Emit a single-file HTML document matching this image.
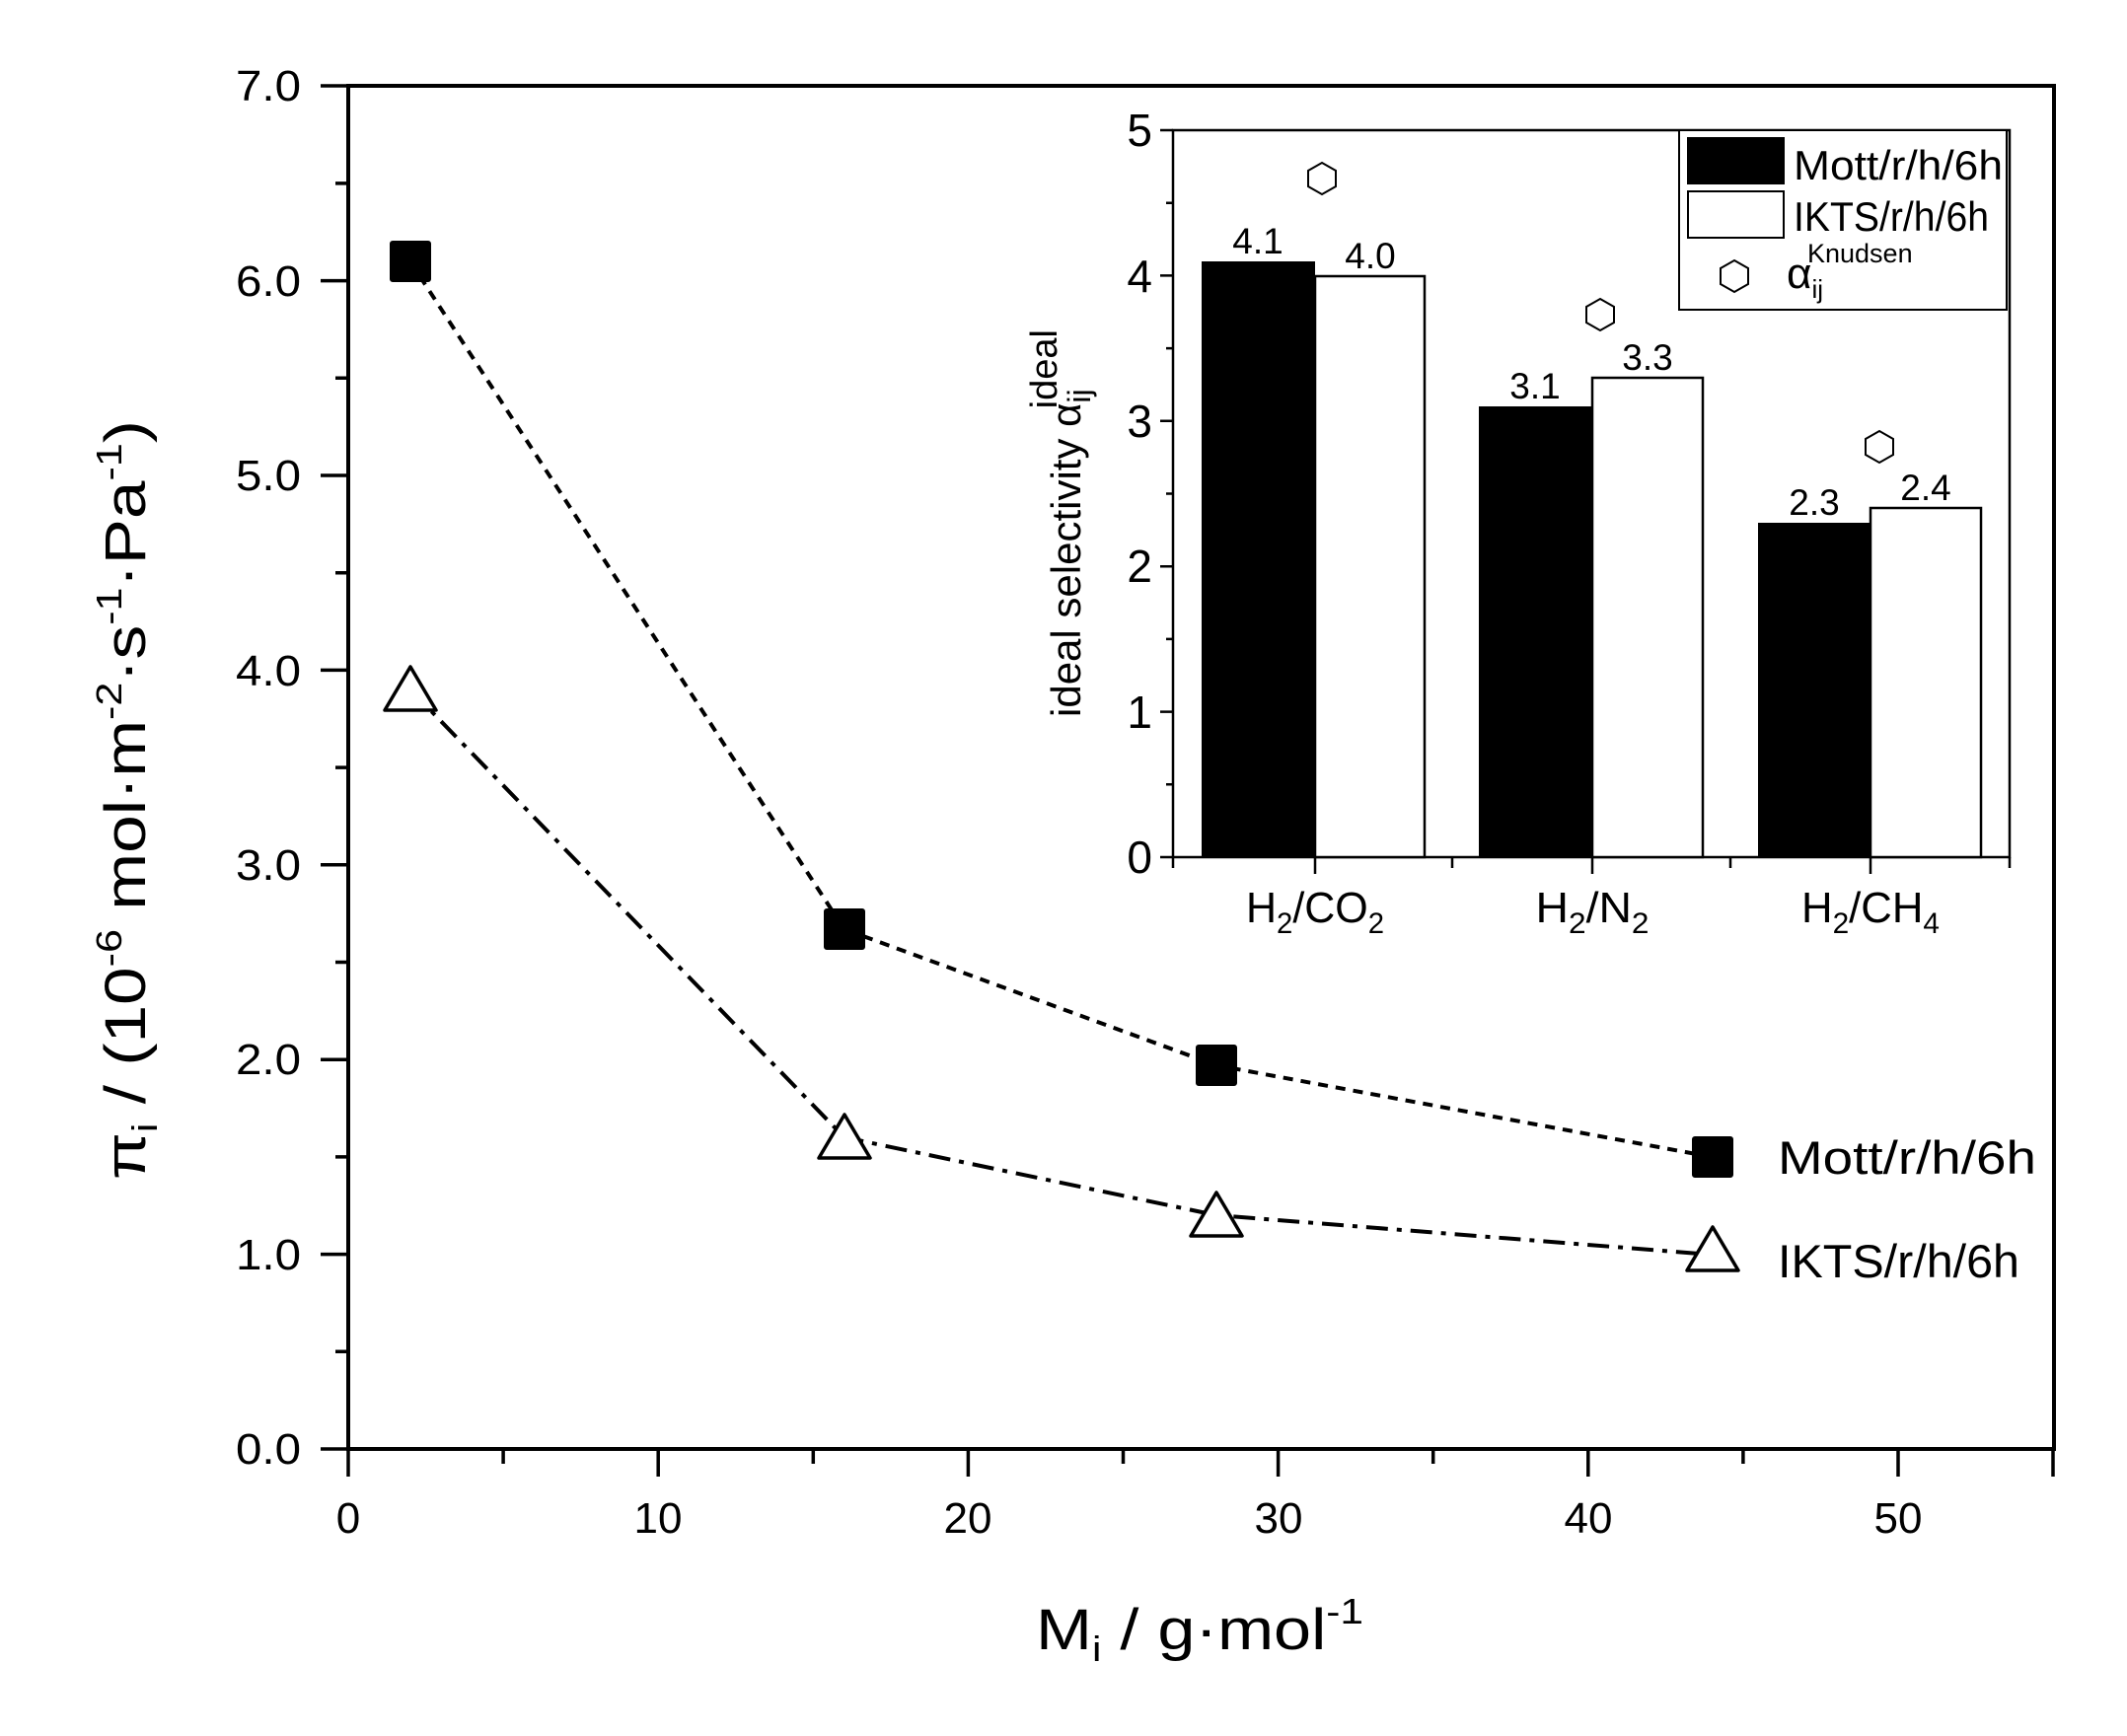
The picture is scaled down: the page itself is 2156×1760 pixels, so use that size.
<!DOCTYPE html>
<html><head><meta charset="utf-8"><style>html,body{margin:0;padding:0;background:#fff}svg{display:block}</style></head>
<body>
<svg width="2156" height="1760" viewBox="0 0 2156 1760" xmlns="http://www.w3.org/2000/svg" font-family="Liberation Sans, sans-serif">
<rect width="2156" height="1760" fill="#fff"/>
<path d="M353 87 H2082 V1469 H353 Z" fill="none" stroke="#000" stroke-width="4"/>
<g stroke="#000" stroke-width="3.5">
<path d="M325 1469H353M325 1271.6H353M325 1074.2H353M325 876.8H353M325 679.4H353M325 482H353M325 284.6H353M325 87H353"/>
<path d="M340 1370.3H353M340 1172.9H353M340 975.5H353M340 778.1H353M340 580.7H353M340 383.3H353M340 185.9H353"/>
<path d="M353 1469V1497M667.2 1469V1497M981.4 1469V1497M1295.6 1469V1497M1609.8 1469V1497M1924 1469V1497M2081 1469V1497"/>
<path d="M510.1 1469V1484M824.3 1469V1484M1138.5 1469V1484M1452.7 1469V1484M1766.9 1469V1484"/>
</g>
<g font-size="44" text-anchor="end" fill="#000">
<text x="305" y="1484" textLength="66" lengthAdjust="spacingAndGlyphs">0.0</text>
<text x="305" y="1287" textLength="66" lengthAdjust="spacingAndGlyphs">1.0</text>
<text x="305" y="1089" textLength="66" lengthAdjust="spacingAndGlyphs">2.0</text>
<text x="305" y="892" textLength="66" lengthAdjust="spacingAndGlyphs">3.0</text>
<text x="305" y="695" textLength="66" lengthAdjust="spacingAndGlyphs">4.0</text>
<text x="305" y="497" textLength="66" lengthAdjust="spacingAndGlyphs">5.0</text>
<text x="305" y="300" textLength="66" lengthAdjust="spacingAndGlyphs">6.0</text>
<text x="305" y="102" textLength="66" lengthAdjust="spacingAndGlyphs">7.0</text>
</g>
<g font-size="44" text-anchor="middle" fill="#000">
<text x="353" y="1554">0</text><text x="667" y="1554">10</text><text x="981" y="1554">20</text>
<text x="1296" y="1554">30</text><text x="1610" y="1554">40</text><text x="1924" y="1554">50</text>
</g>
<polyline points="415.8,265 855.7,942 1232.8,1080 1735.5,1173" fill="none" stroke="#000" stroke-width="4" stroke-dasharray="10,8"/>
<polyline points="415.8,699 855.7,1153 1232.8,1232 1735.5,1272" fill="none" stroke="#000" stroke-width="4" stroke-dasharray="22,9,5,9"/>
<g fill="#000" stroke="#000" stroke-width="2">
<rect x="396" y="245" width="40" height="40" rx="2"/><rect x="836" y="922" width="40" height="40" rx="2"/>
<rect x="1213" y="1060" width="40" height="40" rx="2"/><rect x="1716" y="1153" width="40" height="40" rx="2"/>
</g>
<g fill="#fff" stroke="#000" stroke-width="3.5" stroke-linejoin="round">
<polygon points="416,676 442,720 390,720"/><polygon points="856,1130 882,1174 830,1174"/>
<polygon points="1233,1209 1259,1253 1207,1253"/><polygon points="1736,1244 1762,1288 1710,1288"/>
</g>
<g font-size="47" fill="#000">
<text x="1802" y="1190" textLength="262" lengthAdjust="spacingAndGlyphs">Mott/r/h/6h</text>
<text x="1802" y="1295" textLength="245" lengthAdjust="spacingAndGlyphs">IKTS/r/h/6h</text>
</g>
<text transform="translate(147,811) rotate(-90)" text-anchor="middle" font-size="58" fill="#000" textLength="770" lengthAdjust="spacingAndGlyphs">π<tspan font-size="36" dy="12">i</tspan><tspan dy="-12">  /  (10</tspan><tspan font-size="36" dy="-24">-6</tspan><tspan dy="24"> mol·m</tspan><tspan font-size="36" dy="-24">-2</tspan><tspan dy="24">·s</tspan><tspan font-size="36" dy="-24">-1</tspan><tspan dy="24">·Pa</tspan><tspan font-size="36" dy="-24">-1</tspan><tspan dy="24">)</tspan></text>
<text x="1050" y="1672" font-size="58" fill="#000" textLength="332" lengthAdjust="spacingAndGlyphs">M<tspan font-size="36" dy="12">i</tspan><tspan dy="-12"> / g·mol</tspan><tspan font-size="36" dy="-26">-1</tspan></text>

<rect x="1189" y="132" width="848" height="737" fill="#fff" stroke="#000" stroke-width="2.5"/>
<rect x="1218" y="265" width="115" height="604" fill="#000"/>
<rect x="1333" y="280" width="111" height="589" fill="#fff" stroke="#000" stroke-width="2.5"/>
<rect x="1499" y="412" width="115" height="457" fill="#000"/>
<rect x="1614" y="383" width="112" height="486" fill="#fff" stroke="#000" stroke-width="2.5"/>
<rect x="1782" y="530" width="114" height="339" fill="#000"/>
<rect x="1896" y="515" width="112" height="354" fill="#fff" stroke="#000" stroke-width="2.5"/>
<g stroke="#000" stroke-width="2.5">
<path d="M1176 869H1189M1176 721.6H1189M1176 574.2H1189M1176 426.8H1189M1176 279.4H1189M1176 132H1189"/>
<path d="M1182 795.3H1189M1182 647.9H1189M1182 500.5H1189M1182 353.1H1189M1182 205.7H1189"/>
<path d="M1333 869V886M1614 869V886M1896 869V886M1472 869V880M1754 869V880M1189 869V880M2037 869V880"/>
</g>
<g font-size="46" text-anchor="end" fill="#000">
<text x="1168" y="885">0</text><text x="1168" y="738">1</text><text x="1168" y="590">2</text>
<text x="1168" y="443">3</text><text x="1168" y="296">4</text><text x="1168" y="148">5</text>
</g>
<g font-size="37" text-anchor="middle" fill="#000">
<text x="1275" y="257">4.1</text><text x="1389" y="272">4.0</text>
<text x="1556" y="404">3.1</text><text x="1670" y="375">3.3</text>
<text x="1839" y="522">2.3</text><text x="1952" y="507">2.4</text>
</g>
<g font-size="44" text-anchor="middle" fill="#000">
<text x="1333" y="935" textLength="140" lengthAdjust="spacingAndGlyphs">H<tspan font-size="30" dy="11">2</tspan><tspan dy="-11">/CO</tspan><tspan font-size="30" dy="11">2</tspan></text>
<text x="1614" y="935" textLength="115" lengthAdjust="spacingAndGlyphs">H<tspan font-size="30" dy="11">2</tspan><tspan dy="-11">/N</tspan><tspan font-size="30" dy="11">2</tspan></text>
<text x="1896" y="935" textLength="140" lengthAdjust="spacingAndGlyphs">H<tspan font-size="30" dy="11">2</tspan><tspan dy="-11">/CH</tspan><tspan font-size="30" dy="11">4</tspan></text>
</g>
<g fill="#fff" stroke="#000" stroke-width="2">
<polygon points="1340,165 1354,173 1354,189 1340,197 1326,189 1326,173"/>
<polygon points="1622,303 1636,311 1636,327 1622,335 1608,327 1608,311"/>
<polygon points="1905,437 1919,445 1919,461 1905,469 1891,461 1891,445"/>
</g>
<text transform="translate(1095,727) rotate(-90)" font-size="42" fill="#000">ideal selectivity α<tspan font-size="32" dy="10">ij</tspan><tspan font-size="38" dx="-20" dy="-34">ideal</tspan></text>
<rect x="1702" y="132" width="332" height="182" fill="#fff" stroke="#000" stroke-width="2"/>
<rect x="1710" y="139" width="99" height="48" fill="#000"/>
<rect x="1711" y="194" width="97" height="47" fill="#fff" stroke="#000" stroke-width="2"/>
<g font-size="42" fill="#000">
<text x="1818" y="182" textLength="212" lengthAdjust="spacingAndGlyphs">Mott/r/h/6h</text>
<text x="1818" y="234" textLength="198" lengthAdjust="spacingAndGlyphs">IKTS/r/h/6h</text>
<text x="1811" y="292" font-size="44">α<tspan font-size="26" dy="10">ij</tspan><tspan font-size="27" dx="-16" dy="-36">Knudsen</tspan></text>
</g>
<polygon points="1758,264 1772,272 1772,288 1758,296 1744,288 1744,272" fill="#fff" stroke="#000" stroke-width="2"/>
</svg>
</body></html>
